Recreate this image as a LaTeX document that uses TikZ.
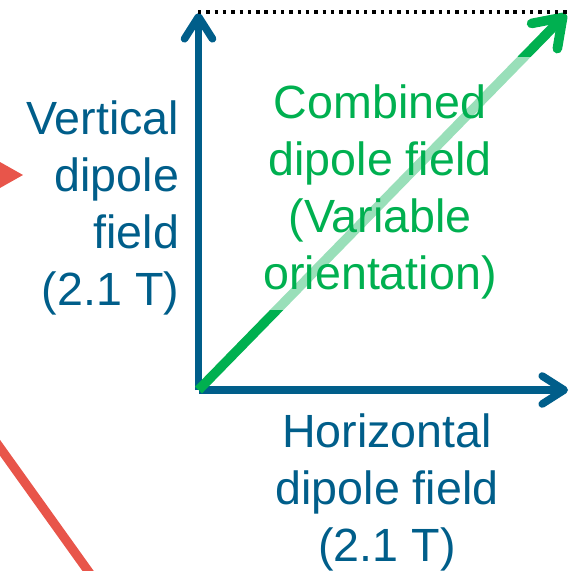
\documentclass[tikz,border=0pt]{standalone}
\usepackage{fontspec}
\setmainfont{Liberation Sans}[Ligatures=NoCommon]
\usetikzlibrary{arrows.meta}
\definecolor{fieldblue}{RGB}{0,94,138}
\definecolor{fieldgreen}{RGB}{0,176,80}
\definecolor{beamred}{RGB}{232,85,74}
\begin{document}
\begin{tikzpicture}[x=0.5pt, y=-0.5pt,
  axis/.style={fieldblue, line width=3.8pt, -{Straight Barb[length=11pt, width=14pt, round]}},
  lbl/.style={font=\fontsize{23.3}{28.6}\selectfont, inner sep=0pt, align=center}]
  \useasboundingbox (0,0) rectangle (569,571);
  % origin and free ends of the vectors
  \coordinate (O) at (198.5,390);
  \coordinate (vtip) at (198.5,13);
  \coordinate (htip) at (568,390);
  \coordinate (gtip) at (566,14);
  \draw[axis] (O) -- (vtip);
  \draw[axis] (O) -- (htip);
  \draw[fieldgreen, line width=4.8pt, -{Straight Barb[length=13pt, width=18pt, round]}] (O) -- (gtip);
  % text box in front of the combined field
  \fill[white, fill opacity=0.6] (205,57) rectangle (548,310);
  \node[lbl, fieldblue, align=right, anchor=north east] (vlabel) at (179.5,100) {Vertical\\dipole\\field\\(2.1 T)};
  \node[lbl, fieldgreen, anchor=north] (glabel) at (380,84) {Combined\\dipole field\\(Variable\\orientation)};
  \node[lbl, fieldblue, anchor=north] (hlabel) at (387,413) {Horizontal\\dipole field\\(2.1 T)};
  % dotted guide at the top
  \coordinate (dotL) at (198,12);
  \coordinate (dotR) at (580,12);
  \draw[black, line width=1.7pt, dash pattern=on 1.7pt off 2.45pt] (dotL) -- (dotR);
  % red beam parts at the left edge
  \coordinate (rtip) at (23,175);
  \fill[beamred] (-8,157.5) -- (rtip) -- (-8,192.5) -- cycle;
  \coordinate (rA) at (-12,431);
  \coordinate (rB) at (96,582);
  \draw[beamred, line width=4.6pt] (rA) -- (rB);
\end{tikzpicture}
\end{document}
